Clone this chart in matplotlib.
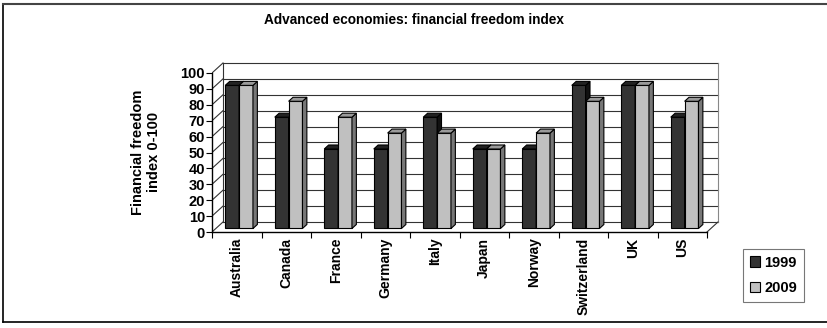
import matplotlib.pyplot as plt
from matplotlib.patches import Rectangle
from matplotlib.lines import Line2D

plt.rcParams['font.family'] = ['Liberation Sans', 'DejaVu Sans']

countries = ['Australia', 'Canada', 'France', 'Germany', 'Italy',
             'Japan', 'Norway', 'Switzerland', 'UK', 'US']
index_1999 = [90, 70, 50, 50, 70, 50, 50, 90, 90, 70]
index_2009 = [90, 80, 70, 60, 60, 50, 60, 80, 90, 80]
years = ['1999', '2009']

# colours: front face, top face, side face
faces = {
    '1999': ('#333333', '#222222', '#111111'),
    '2009': ('#c0c0c0', '#9a9a9a', '#777777'),
}

# depth of the 3d box in data units
DX, DY = 0.222, 6.3
F0, F1 = 0.35, 0.75        # bar front/back as fraction of box depth
BAR_W = 0.28
BAR_LEFT = 0.19

W, H = 828, 328
fig = plt.figure(figsize=(W / 100, H / 100), dpi=100)
n = len(countries)
xmax, ymax = n + DX + 0.05, 100 + DY + 0.5
ax = fig.add_axes([212 / W, (H - 232) / H, xmax * 49.5 / W, ymax * 1.59 / H])
ax.set_xlim(0, xmax)
ax.set_ylim(0, ymax)
ax.patch.set_visible(False)

# back wall, side wall and floor lines
for v in range(0, 101, 10):
    ax.plot([DX, n + DX], [v + DY, v + DY], color='#333333', lw=0.8, zorder=1)
    ax.plot([0, DX], [v, v + DY], color='#333333', lw=0.8, zorder=1)
ax.plot([DX, DX], [DY, 100 + DY], color='#333333', lw=0.8, zorder=1)
ax.plot([n + DX, n + DX], [DY, 100 + DY], color='#888888', lw=0.8, zorder=1)
ax.plot([n, n + DX], [0, DY], color='#333333', lw=0.8, zorder=1)


def draw_bar(x0, v, colors):
    front, top, side = colors
    ox, oy = F0 * DX, F0 * DY
    ddx, ddy = (F1 - F0) * DX, (F1 - F0) * DY
    x1 = x0 + BAR_W
    ax.fill([x0 + ox, x1 + ox, x1 + ox, x0 + ox], [oy, oy, v + oy, v + oy],
            facecolor=front, edgecolor='black', lw=0.8, zorder=3)
    ax.fill([x1 + ox, x1 + ox + ddx, x1 + ox + ddx, x1 + ox],
            [oy, oy + ddy, v + oy + ddy, v + oy],
            facecolor=side, edgecolor='black', lw=0.8, zorder=3)
    ax.fill([x0 + ox, x1 + ox, x1 + ox + ddx, x0 + ox + ddx],
            [v + oy, v + oy, v + oy + ddy, v + oy + ddy],
            facecolor=top, edgecolor='black', lw=0.8, zorder=3)


for i in range(n):
    draw_bar(i + BAR_LEFT, index_1999[i], faces['1999'])
    draw_bar(i + BAR_LEFT + BAR_W, index_2009[i], faces['2009'])

for s in ['top', 'right']:
    ax.spines[s].set_visible(False)
ax.spines['left'].set_bounds(0, 100)
ax.spines['bottom'].set_bounds(0, n)
for s in ['left', 'bottom']:
    ax.spines[s].set_linewidth(1.0)
    ax.spines[s].set_zorder(4)

ax.set_yticks(range(0, 101, 10))
ax.tick_params(axis='y', direction='out', length=4, width=0.8, pad=1,
               labelsize=10.5)
for t in ax.get_yticklabels():
    t.set_fontweight('bold')

ax.set_xticks(range(n + 1))
ax.set_xticklabels([])
ax.tick_params(axis='x', direction='out', length=4, width=0.8)
for i, name in enumerate(countries):
    ax.text(i + 0.5, -3.5, name, rotation=90, ha='center', va='top',
            fontsize=10, fontweight='bold')

fig.text(146 / W, 1 - 152 / H, 'Financial freedom\nindex 0-100', rotation=90,
         ha='center', va='center', fontsize=10.5, fontweight='bold',
         linespacing=1.15)
fig.text(414 / W, 1 - 20 / H, 'Advanced economies: financial freedom index',
         ha='center', va='center', fontsize=9.8, fontweight='bold')

handles = [Rectangle((0, 0), 1, 1, facecolor=faces[y][0], edgecolor='black',
                     lw=0.8) for y in years]
leg = fig.legend(handles, years, loc='center', bbox_to_anchor=(773.5 / W, 1 - 275.5 / H),
                 frameon=True, fancybox=False, edgecolor='#555555',
                 prop={'weight': 'bold', 'size': 10.5}, handlelength=0.7,
                 handleheight=0.7, handletextpad=0.3, labelspacing=0.8,
                 borderpad=0.45, borderaxespad=0)
leg.get_frame().set_linewidth(0.8)

# outer chart frame
fig.add_artist(Line2D([3 / W, 3 / W], [1 - 4 / H, 1 - 322 / H], color='black',
                      lw=1.2, transform=fig.transFigure))
fig.add_artist(Line2D([3 / W, 1], [1 - 4 / H, 1 - 4 / H], color='#444444',
                      lw=1.5, transform=fig.transFigure))
fig.add_artist(Line2D([3 / W, 1], [1 - 322 / H, 1 - 322 / H], color='black',
                      lw=1.2, transform=fig.transFigure))

fig.savefig('out.png', dpi=100)
